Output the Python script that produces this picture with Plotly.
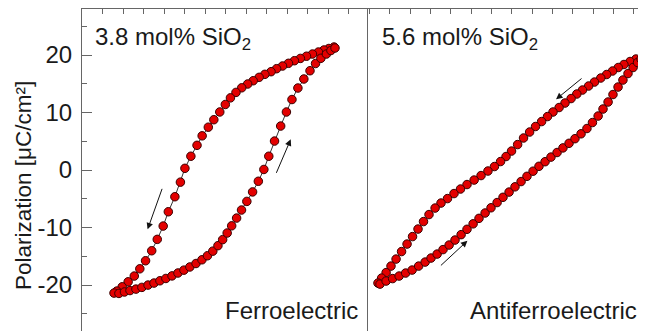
import plotly.graph_objects as go
from plotly.subplots import make_subplots

# ---------------- data (E: field, arbitrary tick units; P: µC/cm²) ----------------
fe_up_E = [5.27, 5.02, 4.78, 4.51, 4.22, 3.93, 3.63, 3.34, 3.05, 2.76, 2.47, 2.20, 1.90, 1.62,
           1.33, 1.06, 0.77, 0.49, 0.22, -0.03, -0.30, -0.59, -0.86, -1.16, -1.41, -1.71, -2.00,
           -2.22, -2.49, -2.81, -3.06, -3.35, -3.62, -3.92, -4.20, -4.47, -4.77, -5.06, -5.32, -5.46]
fe_up_P = [21.39, 21.13, 20.87, 20.52, 20.17, 19.79, 19.41, 19.01, 18.56, 18.09, 17.62, 17.10,
           16.64, 16.12, 15.53, 14.96, 14.30, 13.50, 12.55, 11.40, 10.10, 8.75, 7.45, 5.95, 4.30,
           2.40, 0.30, -2.10, -4.64, -7.25, -9.74, -12.05, -14.03, -15.77, -17.17, -18.43, -19.43,
           -20.30, -21.04, -21.39]
fe_lo_E = [-5.22, -4.95, -4.68, -4.39, -4.10, -3.80, -3.51, -3.22, -2.93, -2.63, -2.34, -2.05,
           -1.76, -1.46, -1.17, -0.90, -0.64, -0.39, -0.16, 0.06, 0.28, 0.52, 0.76, 1.02, 1.30,
           1.58, 1.85, 2.09, 2.37, 2.67, 2.95, 3.22, 3.51, 3.80, 4.10, 4.37, 4.63, 4.90, 5.12, 5.32]
fe_lo_P = [-21.45, -21.20, -20.95, -20.70, -20.40, -20.00, -19.65, -19.25, -18.85, -18.40,
           -17.90, -17.40, -16.85, -16.25, -15.60, -14.90, -14.10, -13.15, -12.10, -10.95,
           -9.70, -8.35, -6.95, -5.45, -3.80, -1.95, 0.10, 2.40, 5.04, 7.65, 10.09, 12.26,
           14.26, 15.83, 17.27, 18.52, 19.43, 20.17, 20.78, 21.22]

afe_up_E = [6.41, 6.11, 5.82, 5.52, 5.24, 4.96, 4.67, 4.38, 4.07, 3.78, 3.48, 3.20, 2.92, 2.62,
            2.33, 2.03, 1.76, 1.47, 1.17, 0.88, 0.58, 0.29, -0.01, -0.28, -0.55, -0.85, -1.17,
            -1.51, -1.85, -2.20, -2.52, -2.84, -3.16, -3.48, -3.77, -4.07, -4.34, -4.61, -4.88,
            -5.15, -5.42, -5.69, -5.94, -6.18, -6.40, -6.58]
afe_up_P = [19.57, 19.30, 18.87, 18.35, 17.83, 17.22, 16.61, 16.00, 15.30, 14.61, 13.91, 13.22,
            12.43, 11.65, 10.87, 10.09, 9.30, 8.43, 7.57, 6.61, 5.57, 4.43, 3.30, 2.35, 1.48,
            0.61, -0.17, -0.96, -1.74, -2.52, -3.30, -4.09, -4.96, -5.74, -6.61, -7.74, -8.96,
            -10.26, -11.57, -12.87, -14.17, -15.48, -16.70, -17.83, -18.78, -19.65]
afe_lo_E = [-6.48, -6.18, -5.86, -5.54, -5.22, -4.90, -4.58, -4.26, -3.97, -3.67, -3.38, -3.08,
            -2.79, -2.49, -2.20, -1.90, -1.61, -1.31, -1.02, -0.72, -0.43, -0.13, 0.16, 0.46,
            0.75, 1.05, 1.34, 1.64, 1.93, 2.23, 2.52, 2.82, 3.11, 3.41, 3.70, 3.97, 4.25, 4.49,
            4.74, 4.98, 5.23, 5.47, 5.72, 5.97, 6.19, 6.36]
afe_lo_P = [-19.83, -19.30, -18.87, -18.43, -17.91, -17.39, -16.70, -16.00, -15.30, -14.61,
            -13.83, -13.04, -12.17, -11.23, -10.30, -9.35, -8.40, -7.47, -6.56, -5.65, -4.74,
            -3.83, -2.92, -2.00, -1.09, -0.20, 0.65, 1.45, 2.25, 3.05, 3.85, 4.65, 5.45, 6.30,
            7.22, 8.26, 9.39, 10.61, 11.83, 13.13, 14.43, 15.65, 16.78, 17.83, 18.70, 19.30]

y_tick_vals = [-20, -10, 0, 10, 20]
y_tick_text = ["-20", "-10", "0", "10", "20"]
panel_titles = ["3.8 mol% SiO<sub>2</sub>", "5.6 mol% SiO<sub>2</sub>"]
panel_labels = ["Ferroelectric", "Antiferroelectric"]
y_title = "Polarization [μC/cm²]"

# arrows: (head E, head P, tail dx px, tail dy px)
arrows_left = [(-3.82, -10.31, 15, -42), (3.16, 5.34, -15, 35)]
arrows_right = [(2.18, 12.30, 27, -22), (-2.18, -12.30, -28, 26)]

# ---------------- figure ----------------
# The page body has an 8 px default margin, so the figure is laid out in page
# coordinates shifted by 8 px; the right/bottom edges run slightly past the window.
W, H = 644, 330
ML, MT, MR, MB = 74, 1, 0, 0
PW = W - ML - MR
PH = H - MT - MB
split = 0.5

fig = make_subplots(rows=1, cols=2, horizontal_spacing=0)

FONT = "Liberation Sans, Arial, sans-serif"
TXT = "#1a1a1a"
marker = dict(size=8.5, color="#e30000", line=dict(color="#3a0000", width=1))
line = dict(color="#333333", width=1)

for E, P, col in [(fe_up_E + fe_lo_E, fe_up_P + fe_lo_P, 1),
                  (afe_up_E + afe_lo_E, afe_up_P + afe_lo_P, 2)]:
    fig.add_trace(go.Scatter(x=E, y=P, mode="lines+markers", marker=marker, line=line,
                             showlegend=False, hoverinfo="skip"),
                  row=1, col=col)

axcol = "#666666"
yr = [-29.2, 28.0]

fig.update_layout(
    width=W, height=H,
    margin=dict(l=ML, r=MR, t=MT, b=MB, autoexpand=False),
    paper_bgcolor="white", plot_bgcolor="white",
    font=dict(family=FONT, color=TXT, size=24),
    xaxis=dict(domain=[0, split], range=[-7.02, 6.88], side="top", showline=True,
               linecolor=axcol, linewidth=1, ticks="inside", ticklen=5, tickcolor=axcol,
               dtick=1, tick0=0, showticklabels=False, showgrid=False, zeroline=False,
               mirror=False, automargin=False),
    xaxis2=dict(domain=[split, 1], range=[-7.12, 6.90], side="top", showline=True,
                linecolor=axcol, linewidth=1, ticks="inside", ticklen=5, tickcolor=axcol,
                dtick=1, tick0=0, showticklabels=False, showgrid=False, zeroline=False,
                mirror=False, automargin=False),
    yaxis=dict(range=yr, showline=True, linecolor=axcol, linewidth=1, mirror=True,
               ticks="inside", ticklen=10, tickcolor=axcol, tickvals=y_tick_vals,
               ticktext=y_tick_text, tickfont=dict(size=24, color=TXT),
               ticklabelstandoff=4, automargin=False,
               minor=dict(ticks="inside", ticklen=5, tickcolor=axcol, dtick=5, tick0=5,
                          showgrid=False),
               showgrid=False, zeroline=False),
    yaxis2=dict(range=yr, side="right", showline=True, linecolor=axcol, linewidth=1,
                ticks="inside", ticklen=10, tickcolor=axcol, tickvals=y_tick_vals,
                showticklabels=False, automargin=False,
                minor=dict(ticks="inside", ticklen=5, tickcolor=axcol, dtick=5, tick0=5,
                           showgrid=False),
                showgrid=False, zeroline=False),
)

# panel titles
for txt, xr, yrf, xx in [(panel_titles[0], "x domain", "y domain", 0.039),
                         (panel_titles[1], "x2 domain", "y2 domain", 0.046)]:
    fig.add_annotation(text=txt, xref=xr, yref=yrf, x=xx, y=0.965,
                       xanchor="left", yanchor="top", showarrow=False,
                       font=dict(size=24, color=TXT, family=FONT))

for txt, xr, yrf, xx in [(panel_labels[0], "x domain", "y domain", 0.975),
                         (panel_labels[1], "x2 domain", "y2 domain", 0.954)]:
    fig.add_annotation(text=txt, xref=xr, yref=yrf, x=xx, y=0.085,
                       xanchor="right", yanchor="middle", showarrow=False,
                       font=dict(size=24, color=TXT, family=FONT))

for (hx, hy, dx, dy) in arrows_left:
    fig.add_annotation(x=hx, y=hy, xref="x", yref="y", ax=dx, ay=dy, text="",
                       showarrow=True, arrowhead=2, arrowsize=1.3, arrowwidth=1,
                       arrowcolor="#111111")
for (hx, hy, dx, dy) in arrows_right:
    fig.add_annotation(x=hx, y=hy, xref="x2", yref="y2", ax=dx, ay=dy, text="",
                       showarrow=True, arrowhead=2, arrowsize=1.3, arrowwidth=1,
                       arrowcolor="#111111")

fig.add_annotation(text=y_title, xref="paper", yref="paper", x=(16 - ML) / PW,
                   y=(H - MB - 178) / PH, textangle=-90, showarrow=False,
                   xanchor="center", yanchor="middle",
                   font=dict(size=22.5, color=TXT, family=FONT))

fig.write_html("out.html")
